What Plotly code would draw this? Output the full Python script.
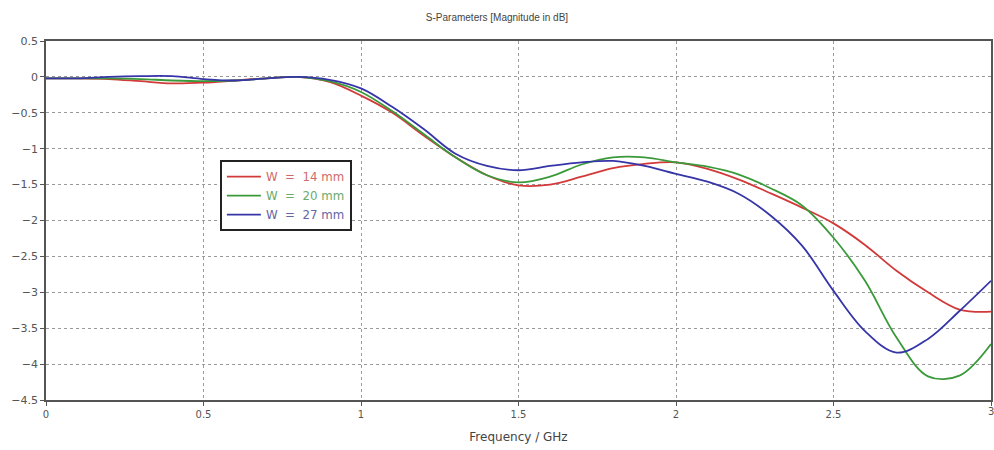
import plotly.graph_objects as go

# S-parameter magnitude (dB) versus frequency for three widths W
freq_ghz = [0, 0.1, 0.2, 0.3, 0.4, 0.5, 0.6, 0.7, 0.8, 0.9, 1.0, 1.1, 1.2, 1.3,
            1.4, 1.5, 1.6, 1.7, 1.8, 1.9, 2.0, 2.1, 2.2, 2.3, 2.4, 2.5, 2.6,
            2.7, 2.8, 2.9, 3.0]

s_w14 = [-0.02, -0.02, -0.03, -0.06, -0.09, -0.08, -0.05, -0.02, 0.0, -0.07,
         -0.26, -0.5, -0.82, -1.12, -1.37, -1.51, -1.5, -1.39, -1.27, -1.21,
         -1.19, -1.28, -1.43, -1.62, -1.82, -2.04, -2.34, -2.7, -3.0, -3.24,
         -3.27]

s_w20 = [-0.02, -0.02, -0.02, -0.03, -0.05, -0.06, -0.05, -0.02, 0.0, -0.06,
         -0.21, -0.48, -0.8, -1.12, -1.37, -1.47, -1.39, -1.22, -1.12, -1.12,
         -1.19, -1.25, -1.36, -1.55, -1.79, -2.24, -2.84, -3.63, -4.17, -4.16,
         -3.72]

s_w27 = [-0.02, -0.02, 0.0, 0.01, 0.01, -0.03, -0.05, -0.02, 0.0, -0.04,
         -0.16, -0.42, -0.73, -1.07, -1.24, -1.3, -1.24, -1.19, -1.17, -1.24,
         -1.35, -1.46, -1.63, -1.93, -2.35, -2.98, -3.54, -3.84, -3.65, -3.26,
         -2.84]

# (label, values, line colour, legend text colour)
series = [
    ("W = 14 mm", s_w14, "#d23a3a", "#d06a6a"),
    ("W = 20 mm", s_w20, "#3a9a3a", "#6aaa6a"),
    ("W = 27 mm", s_w27, "#3535a8", "#6565a5"),
]

y_ticks = [0.5, 0, -0.5, -1, -1.5, -2, -2.5, -3, -3.5, -4, -4.5]
x_ticks = [0, 0.5, 1, 1.5, 2, 2.5, 3]

fig = go.Figure()
for name, vals, color, text_color in series:
    label = name.replace(" ", "\u00a0").replace("=", "\u00a0=\u00a0")
    fig.add_trace(go.Scatter(
        x=freq_ghz, y=vals, mode="lines",
        name=f"<span style='color:{text_color}'>{label}</span>",
        line=dict(color=color, width=1.8, shape="spline", smoothing=1.0),
    ))

axis_common = dict(
    showline=True, linecolor="#555555", linewidth=1.5, mirror=True,
    showgrid=True, gridcolor="#9a9a9a", griddash="dot", gridwidth=1,
    zeroline=False, ticks="outside", ticklen=4, tickcolor="#555555",
)

fig.update_layout(
    width=994, height=450,
    margin=dict(l=46, r=1, t=41, b=50),
    paper_bgcolor="white", plot_bgcolor="white",
    font=dict(family="DejaVu Sans, Verdana, sans-serif", size=10, color="#444444"),
    title=dict(text="S-Parameters [Magnitude in dB]", x=0.5, xanchor="center",
               y=0.962, yanchor="middle",
               font=dict(family="Liberation Sans, Arial, sans-serif",
                         size=10, color="#444444")),
    xaxis=dict(range=[0, 3], tickvals=x_ticks,
               tickfont=dict(size=10, color="#555555"),
               title=dict(text="Frequency / GHz",
                          font=dict(size=12, color="#444444"), standoff=14),
               **axis_common),
    yaxis=dict(range=[-4.5, 0.5], tickvals=y_ticks,
               tickfont=dict(size=11, color="#555555"), **axis_common),
    legend=dict(x=0.184, y=0.668, xanchor="left", yanchor="top",
                bgcolor="white", bordercolor="#222222", borderwidth=2,
                font=dict(size=11.8), tracegroupgap=0, itemwidth=34),
    showlegend=True,
)

# the last x tick label sits on the right page edge
fig.add_annotation(x=3, y=0, xref="x", yref="paper", text="3",
                   showarrow=False, yanchor="top", yshift=-4,
                   font=dict(size=10, color="#555555"))

fig.write_html("out.html")
